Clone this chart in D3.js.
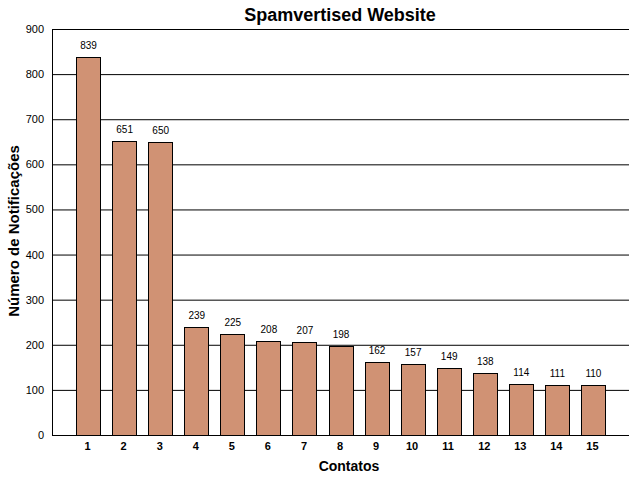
<!DOCTYPE html>
<html><head><meta charset="utf-8">
<script src="https://cdn.jsdelivr.net/npm/d3@7"></script>
<style>body{margin:0;background:#fff}svg{display:block}text{font-family:"Liberation Sans",Arial,sans-serif}</style>
</head><body>
<script>
const categories = ["1","2","3","4","5","6","7","8","9","10","11","12","13","14","15"];
const values = [839,651,650,239,225,208,207,198,162,157,149,138,114,111,110];
const yTicks = [0,100,200,300,400,500,600,700,800,900];
const title = "Spamvertised Website";
const xTitle = "Contatos";
const yTitle = "Número de Notificações";

const W=640,H=480, L=52, R=629, T=29, B=435;
const svg=d3.select("body").append("svg").attr("width",W).attr("height",H);
const x=d3.scaleLinear().domain([0,categories.length+1]).range([L,R]);
const y=d3.scaleLinear().domain([0,900]).range([B,T]);
const bw=24;

// gridlines
svg.append("g").selectAll("line").data(yTicks).join("line")
 .attr("x1",L).attr("x2",R).attr("y1",d=>y(d)+0.5).attr("y2",d=>y(d)+0.5)
 .attr("stroke","#000").attr("stroke-width",1);
// left axis line
svg.append("line").attr("x1",L+0.5).attr("x2",L+0.5).attr("y1",T).attr("y2",B+0.5).attr("stroke","#000");

// y tick labels
svg.append("g").selectAll("text").data(yTicks).join("text")
 .attr("x",44).attr("y",d=>y(d)+4).attr("text-anchor","end")
 .attr("font-size",11).text(d=>d);

// bars
svg.append("g").selectAll("rect").data(values).join("rect")
 .attr("x",(d,i)=>Math.round(x(i+1)-bw/2)+0.5).attr("y",d=>Math.round(y(d))+0.5)
 .attr("width",bw).attr("height",d=>B-Math.round(y(d)))
 .attr("fill","#d09274").attr("stroke","#000").attr("stroke-width",1);

// value labels
svg.append("g").selectAll("text").data(values).join("text")
 .attr("x",(d,i)=>x(i+1)+0.5).attr("y",d=>y(d)-8).attr("text-anchor","middle")
 .attr("font-size",10).text(d=>d);

// x tick labels
svg.append("g").selectAll("text").data(categories).join("text")
 .attr("x",(d,i)=>x(i+1)-0.5).attr("y",450).attr("text-anchor","middle")
 .attr("font-size",11).attr("font-weight","bold").text(d=>d);

// titles
svg.append("text").attr("x",340).attr("y",21).attr("text-anchor","middle")
 .attr("font-size",18).attr("font-weight","bold").text(title);
svg.append("text").attr("x",349).attr("y",471).attr("text-anchor","middle")
 .attr("font-size",14).attr("font-weight","bold").text(xTitle);
svg.append("text").attr("transform","translate(19,231) rotate(-90)").attr("text-anchor","middle")
 .attr("font-size",15).attr("font-weight","bold").text(yTitle);
</script>
</body></html>
